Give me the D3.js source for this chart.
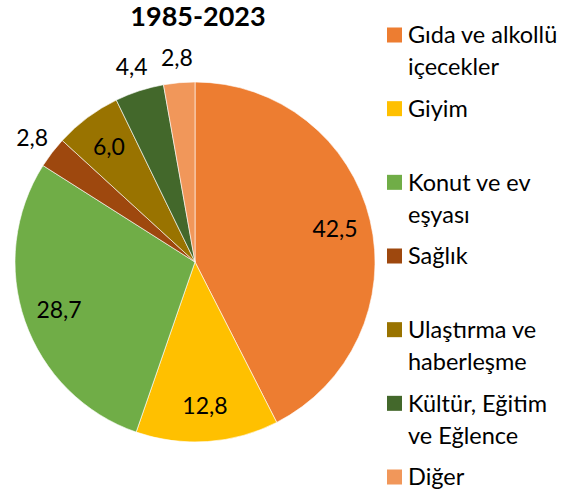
<!DOCTYPE html>
<html>
<head>
<meta charset="utf-8">
<script src="https://cdn.jsdelivr.net/npm/d3@7"></script>
<style>
  body { margin: 0; background: #fff; }
  svg { display: block; font-family: Lato, "Open Sans", sans-serif; }
</style>
</head>
<body>
<div id="chart"></div>
<script>
// data
var title = "1985-2023";
var categories = ["Gıda ve alkollü içecekler", "Giyim", "Konut ve ev eşyası", "Sağlık",
                  "Ulaştırma ve haberleşme", "Kültür, Eğitim ve Eğlence", "Diğer"];
var legendLines = [["Gıda ve alkollü", "içecekler"], ["Giyim"], ["Konut ve ev", "eşyası"], ["Sağlık"],
                   ["Ulaştırma ve", "haberleşme"], ["Kültür, Eğitim", "ve Eğlence"], ["Diğer"]];
var values = [42.5, 12.8, 28.7, 2.8, 6.0, 4.4, 2.8];
var colors = ["#ED7D31", "#FFC000", "#70AD47", "#9E480E", "#997300", "#43682B", "#F1975A"];

var width = 575, height = 498;
var cx = 195, cy = 262, r = 180;

var svg = d3.select("#chart").append("svg")
    .attr("width", width).attr("height", height);

// title
svg.append("text")
    .attr("x", 198).attr("y", 26)
    .attr("text-anchor", "middle")
    .attr("font-size", "27px").attr("font-weight", "bold")
    .attr("fill", "#000")
    .text(title);

var pie = d3.pie().sort(null).value(function(d) { return d; });
var arcs = pie(values);
var arc = d3.arc().innerRadius(0).outerRadius(r);

var g = svg.append("g").attr("transform", "translate(" + cx + "," + cy + ")");

g.selectAll("path")
    .data(arcs)
    .enter()
    .append("path")
    .attr("d", arc)
    .attr("fill", function(d, i) { return colors[i]; })
    .attr("stroke", "#fff")
    .attr("stroke-width", 0.6);

// labels: small slices go outside
function labelPos(d) {
    var k = d.data < 5 ? 1.14 : 0.8;
    var a = (d.startAngle + d.endAngle) / 2;
    return [Math.sin(a) * r * k, -Math.cos(a) * r * k];
}

g.selectAll(".label")
    .data(arcs)
    .enter()
    .append("text")
    .attr("class", "label")
    .attr("x", function(d) { return labelPos(d)[0]; })
    .attr("y", function(d) { return labelPos(d)[1]; })
    .attr("dy", "0.36em")
    .attr("text-anchor", "middle")
    .attr("font-size", "23px")
    .attr("fill", "#000")
    .text(function(d) { return d3.format(".1f")(d.data).replace(".", ","); });

// legend
var legendY = d3.scalePoint()
    .domain(categories)
    .range([35, 477]);

var leg = svg.append("g")
    .selectAll("g")
    .data(categories)
    .enter()
    .append("g")
    .attr("transform", function(d) { return "translate(387," + legendY(d) + ")"; });

leg.append("rect")
    .attr("x", 0).attr("y", -7.5)
    .attr("width", 15).attr("height", 15)
    .attr("fill", function(d, i) { return colors[i]; });

leg.append("text")
    .attr("x", 21)
    .attr("font-size", "23.5px")
    .attr("fill", "#000")
    .selectAll("tspan")
    .data(function(d, i) { return legendLines[i]; })
    .enter()
    .append("tspan")
    .attr("x", 21)
    .attr("y", function(d, j) { return j * 32; })
    .attr("dy", "0.36em")
    .text(function(d) { return d; });
</script>
</body>
</html>
